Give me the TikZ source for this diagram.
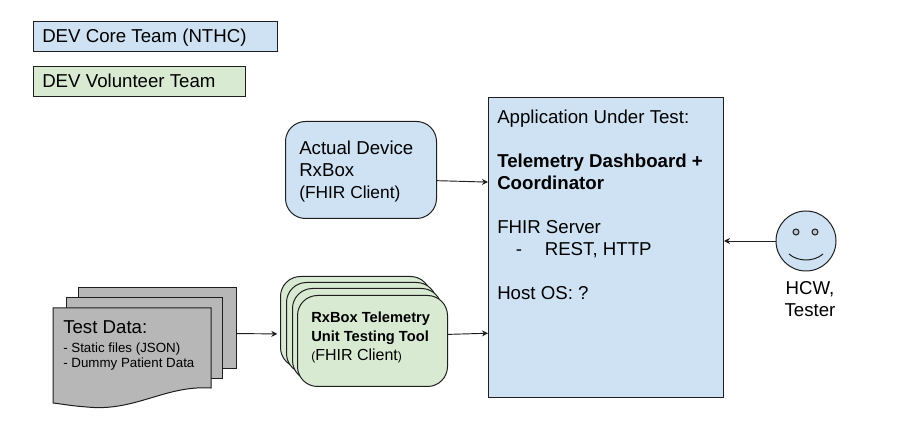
\documentclass[tikz,border=0pt]{standalone}
\usepackage{fontspec}
\setmainfont{Liberation Sans}
\usepackage{xcolor}
\usetikzlibrary{arrows.meta}
\definecolor{devBlue}{HTML}{CFE2F3}
\definecolor{devGreen}{HTML}{D9EAD3}
\definecolor{docGray}{HTML}{B7B7B7}
\definecolor{lineDark}{RGB}{30, 30, 30}
\tikzset{
    base/.style={
        draw=lineDark,
        line width=0.75pt,
        inner sep=0pt
    },
    legend/.style={
        base,
        rectangle,
        minimum height=22.5pt,
        anchor=north west
    },
    device/.style={
        base,
        rectangle,
        rounded corners=15pt,
        anchor=north west
    },
    page/.style={
        base,
        rectangle,
        fill=docGray,
        anchor=north west
    },
    txt/.style={
        font=\fontsize{14}{16.5}\selectfont,
        align=left,
        anchor=north west,
        inner sep=0pt
    },
    flow/.style={
        -{Stealth[length=4.5pt, width=4.5pt]},
        line width=0.7pt,
        color=lineDark
    }
}

\begin{document}
\begin{tikzpicture}[x=0.75pt, y=-0.75pt]
  \useasboundingbox (0,0) rectangle (897,445);

  % Legend
  \node[legend, fill=devBlue, minimum width=183pt] (coreteam) at (33,21) {};
  \node[txt] (coretext) at (42,29) {DEV Core Team (NTHC)};
  \node[legend, fill=devGreen, minimum width=159pt] (volteam) at (33,66) {};
  \node[txt] (voltext) at (42,74) {DEV Volunteer Team};

  % Application under test
  \node[base, rectangle, fill=devBlue, anchor=north west, minimum width=176.25pt, minimum height=225pt] (aut) at (488,97) {};
  \node[txt] (auttext) at (497,110) {Application Under Test:\\[16.5pt]\textbf{Telemetry Dashboard +}\\\textbf{Coordinator}\\[16.5pt]FHIR Server\\\hspace*{14pt}-\hspace*{17pt}REST, HTTP\\[16.5pt]Host OS: ?};

  % Real device
  \node[device, fill=devBlue, minimum width=113.25pt, minimum height=72.75pt] (actual) at (285,121) {};
  \node[txt] (actualtext) at (299,141) {Actual Device\\RxBox\\\fontsize{13}{16.5}\selectfont(FHIR Client)};

  % Test data pages
  \node[page, minimum width=118.5pt, minimum height=60.75pt] (pageback) at (78,287) {};
  \node[page, minimum width=117pt, minimum height=60.75pt] (pagemid) at (66,297) {};
  \draw[base, fill=docGray] (53,308) -- (211,308) -- (211,388) .. controls (165,385) and (135,412) .. (87,407) .. controls (72,406) and (62,404) .. (53,403) -- cycle;
  \node[txt, font=\fontsize{10}{11.25}\selectfont] (datatext) at (63,320) {{\fontsize{14}{11.25}\selectfont Test Data:}\\[3pt]- Static files (JSON)\\- Dummy Patient Data};

  % Tool stack
  \foreach \name/\xx/\yy/\ww/\hh in {toola/280/276/112.5/68.25, toolb/286/282/112.5/68.25, toolc/292/288/111.75/69, toold/297/295/112.5/68.25}{
    \node[device, fill=devGreen, minimum width=\ww pt, minimum height=\hh pt] (\name) at (\xx,\yy) {};
  }
  \node[txt, font=\fontsize{11}{14.25}\selectfont] (tooltext) at (311,312) {\textbf{RxBox Telemetry}\\\textbf{Unit Testing Tool}\\{\fontsize{12}{14.25}\selectfont{\fontsize{9}{14.25}\selectfont(}FHIR Client{\fontsize{9}{14.25}\selectfont)}}};

  % Tester
  \node[base, circle, fill=devBlue, minimum size=45pt] (face) at (806,241) {};
  \node[base, circle, fill=docGray!70!devBlue, minimum size=4.5pt] (eyeleft) at (796,232) {};
  \node[base, circle, fill=docGray!70!devBlue, minimum size=4.5pt] (eyeright) at (815,232) {};
  \draw[line width=0.75pt, color=lineDark] (789,254) .. controls (798,262) and (814,262) .. (823,254);
  \node[txt, anchor=north, align=center] (facetext) at (810,281) {HCW,\\Tester};

  % Connections
  \draw[flow] (actual.-8) -- (aut.151);
  \draw[flow] (face.west) -- (aut.east |- face.west);
  \draw[flow, shorten >=2pt] (pageback.-4) -- (toola.189);
  \draw[flow] (toold.5) -- (aut.216);
\end{tikzpicture}
\end{document}
